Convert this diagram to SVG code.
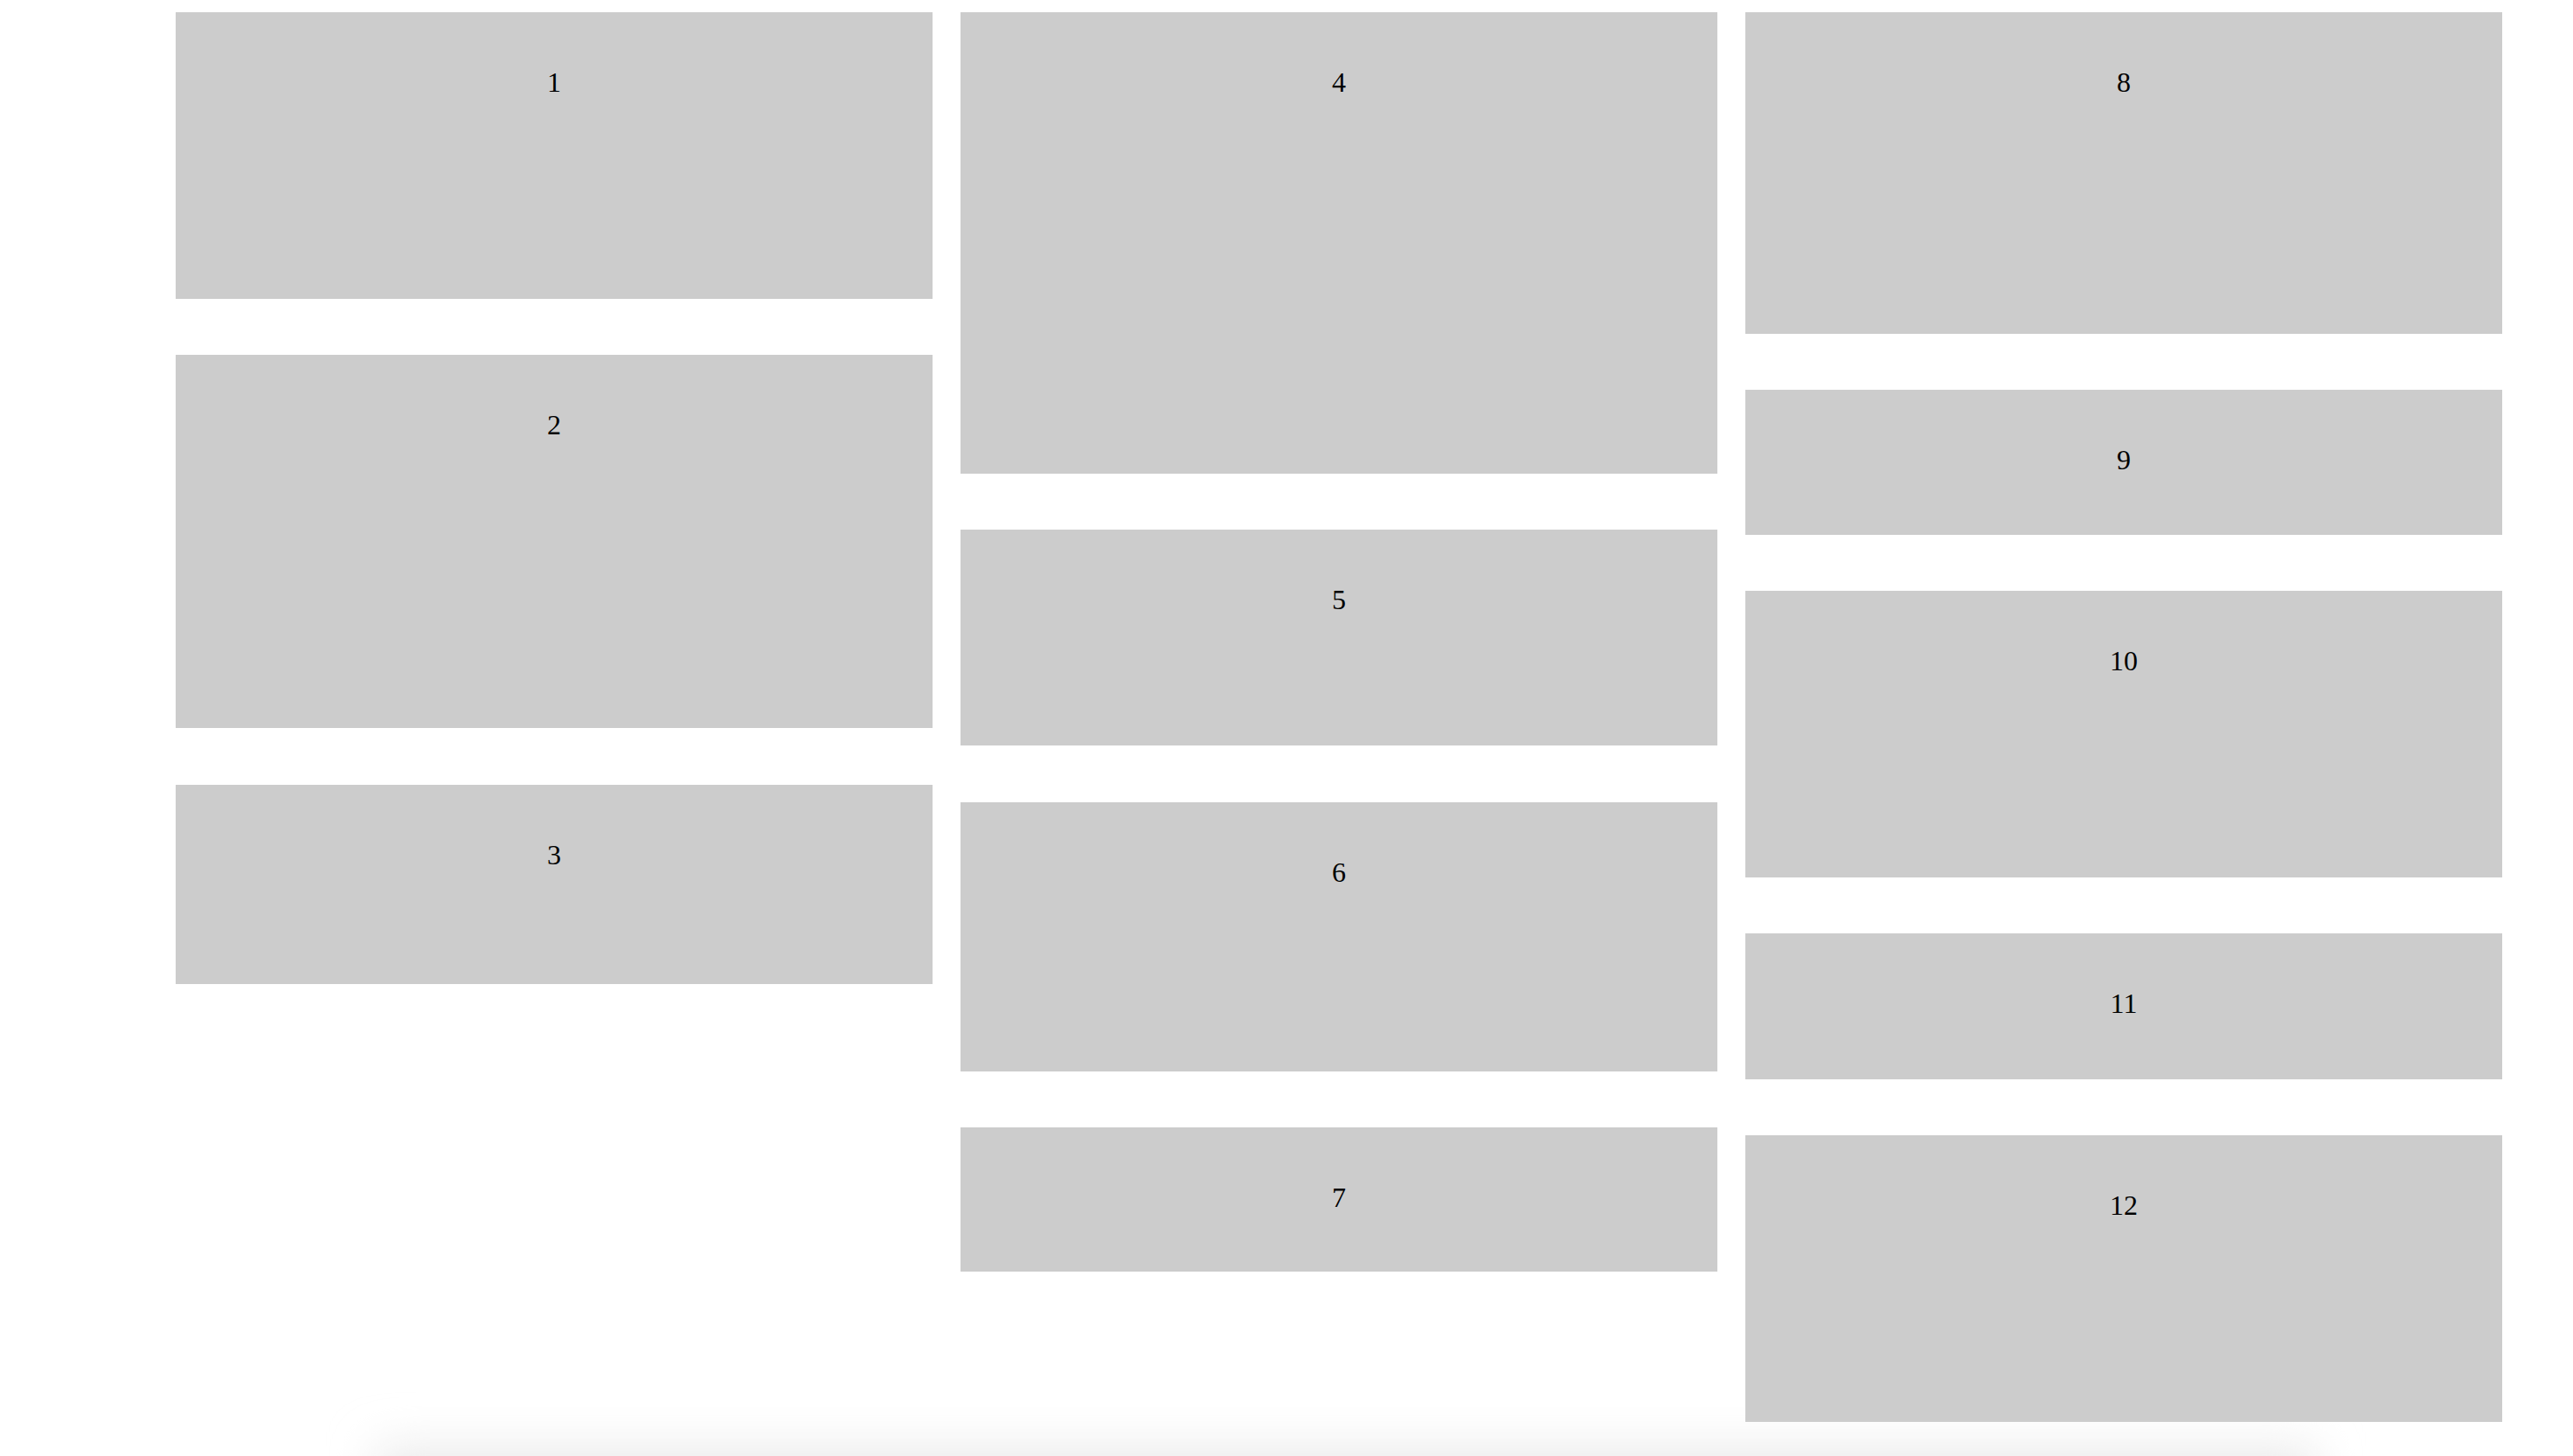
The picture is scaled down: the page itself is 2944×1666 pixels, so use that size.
<svg xmlns="http://www.w3.org/2000/svg" width="2944" height="1666" viewBox="0 0 2944 1666">
  <style>
    .box { fill: #cccccc; }
    .lbl { font-family: "Liberation Serif", "Times New Roman", serif; font-size: 32px; fill: #000000; text-anchor: middle; }
  </style>
  <defs>
    <filter id="blur" x="-10%" y="-150%" width="120%" height="400%">
      <feGaussianBlur stdDeviation="26"/>
    </filter>
  </defs>
  <rect x="0" y="0" width="2944" height="1666" fill="#ffffff"/>
  <rect x="430" y="1655" width="2220" height="80" fill="#ebebeb" filter="url(#blur)"/>
  <g id="connectors"></g>
  <g id="node-1"><rect class="box" x="201" y="14" width="866" height="328"/><text class="lbl" x="634" y="105">1</text></g>
  <g id="node-2"><rect class="box" x="201" y="406" width="866" height="427"/><text class="lbl" x="634" y="497">2</text></g>
  <g id="node-3"><rect class="box" x="201" y="898" width="866" height="228"/><text class="lbl" x="634" y="989">3</text></g>
  <g id="node-4"><rect class="box" x="1099" y="14" width="866" height="528"/><text class="lbl" x="1532" y="105">4</text></g>
  <g id="node-5"><rect class="box" x="1099" y="606" width="866" height="247"/><text class="lbl" x="1532" y="697">5</text></g>
  <g id="node-6"><rect class="box" x="1099" y="918" width="866" height="308"/><text class="lbl" x="1532" y="1009">6</text></g>
  <g id="node-7"><rect class="box" x="1099" y="1290" width="866" height="165"/><text class="lbl" x="1532" y="1381">7</text></g>
  <g id="node-8"><rect class="box" x="1997" y="14" width="866" height="368"/><text class="lbl" x="2430" y="105">8</text></g>
  <g id="node-9"><rect class="box" x="1997" y="446" width="866" height="166"/><text class="lbl" x="2430" y="537">9</text></g>
  <g id="node-10"><rect class="box" x="1997" y="676" width="866" height="328"/><text class="lbl" x="2430" y="767">10</text></g>
  <g id="node-11"><rect class="box" x="1997" y="1068" width="866" height="167"/><text class="lbl" x="2430" y="1159">11</text></g>
  <g id="node-12"><rect class="box" x="1997" y="1299" width="866" height="328"/><text class="lbl" x="2430" y="1390">12</text></g>
</svg>
